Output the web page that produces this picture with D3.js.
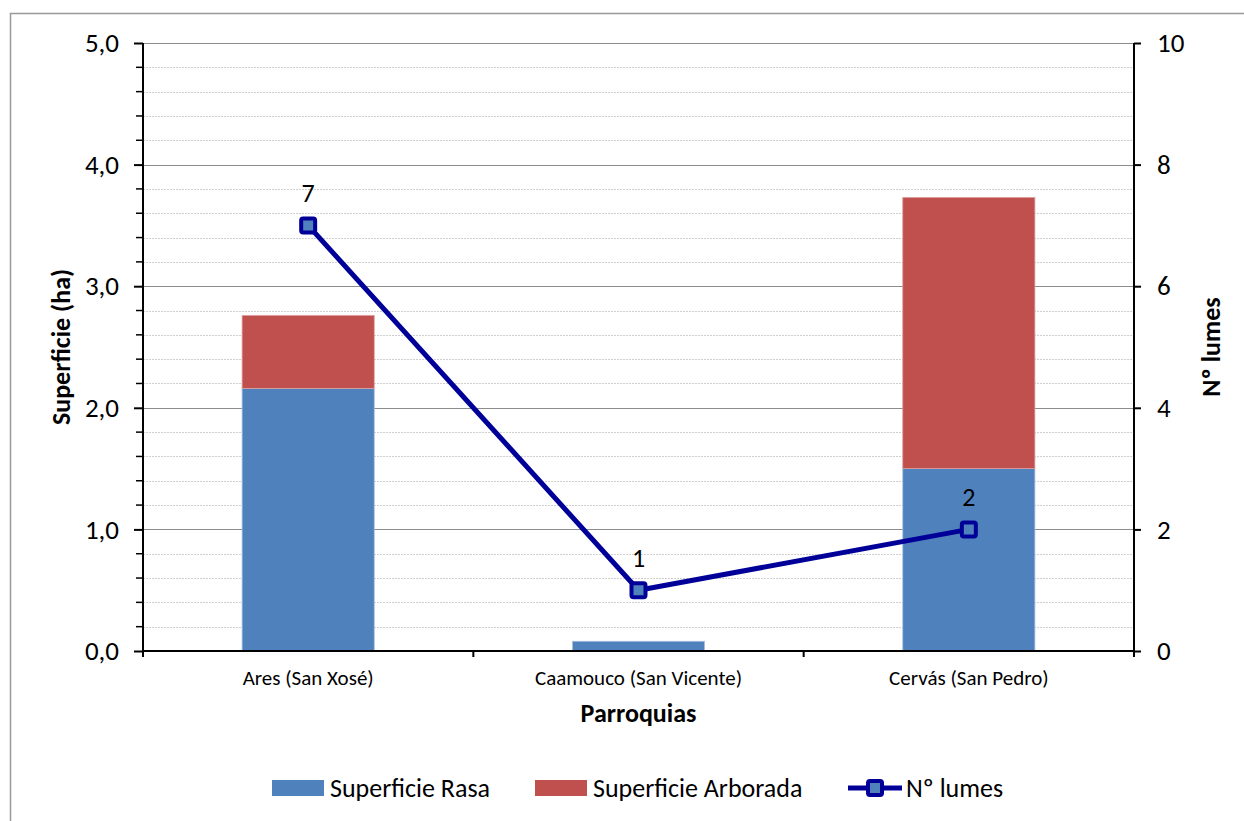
<!DOCTYPE html>
<html>
<head>
<meta charset="utf-8">
<script src="https://cdn.jsdelivr.net/npm/d3@7"></script>
<style>
  body { margin: 0; background: #fff; }
  svg text { font-family: Carlito, Calibri, "Liberation Sans", sans-serif; }
</style>
</head>
<body>
<svg id="chart" width="1244" height="821"></svg>
<script>
// Chart data
var parroquias = ["Ares (San Xosé)", "Caamouco (San Vicente)", "Cervás (San Pedro)"];
var superficieRasa = [2.16, 0.08, 1.50];
var superficieArborada = [0.60, 0, 2.23];
var numLumes = [7, 1, 2];
var leftTicks = [0, 1, 2, 3, 4, 5];
var rightTicks = [0, 2, 4, 6, 8, 10];

var svg = d3.select("#chart");
var plotLeft = 143, plotRight = 1134, plotTop = 43, plotBottom = 651;

// Outer border
svg.append("rect")
    .attr("x", 10.5).attr("y", 13.5)
    .attr("width", 1250).attr("height", 830)
    .attr("fill", "none").attr("stroke", "#999").attr("stroke-width", 1.5);

var x = d3.scaleBand().domain(parroquias).range([plotLeft, plotRight]).padding(0);
var yL = d3.scaleLinear().domain([0, 5]).range([plotBottom, plotTop]);
var yR = d3.scaleLinear().domain([0, 10]).range([plotBottom, plotTop]);

// Minor gridlines
var minor = d3.range(0, 5.01, 0.2).filter(v => Math.abs(v - Math.round(v)) > 0.01);
svg.append("g").selectAll("line").data(minor).join("line")
    .attr("x1", plotLeft).attr("x2", plotRight)
    .attr("y1", d => Math.round(yL(d)) + 0.5).attr("y2", d => Math.round(yL(d)) + 0.5)
    .attr("stroke", "#cfcfcf").attr("stroke-dasharray", "2,1");

// Major gridlines
svg.append("g").selectAll("line").data(leftTicks.slice(1)).join("line")
    .attr("x1", plotLeft).attr("x2", plotRight)
    .attr("y1", d => Math.round(yL(d)) + 0.5).attr("y2", d => Math.round(yL(d)) + 0.5)
    .attr("stroke", "#8c8c8c").attr("stroke-width", 1.2);

// Stacked bars
var barW = x.bandwidth() * 0.4;
var bars = svg.append("g");
parroquias.forEach((p, i) => {
    var bx = x(p) + (x.bandwidth() - barW) / 2;
    bars.append("rect")
        .attr("x", bx).attr("width", barW)
        .attr("y", yL(superficieRasa[i])).attr("height", yL(0) - yL(superficieRasa[i]))
        .attr("fill", "#4F81BD").attr("stroke", "#a7c0de").attr("stroke-width", 0.8);
    if (superficieArborada[i] > 0) {
        var tot = superficieRasa[i] + superficieArborada[i];
        bars.append("rect")
            .attr("x", bx).attr("width", barW)
            .attr("y", yL(tot)).attr("height", yL(superficieRasa[i]) - yL(tot))
            .attr("fill", "#C0504D").attr("stroke", "#dca09e").attr("stroke-width", 0.8);
    }
});

// Left axis
var axL = svg.append("g").attr("transform", "translate(" + plotLeft + ",0)")
    .call(d3.axisLeft(yL).tickValues(leftTicks).tickFormat(d => d3.format(".1f")(d).replace(".", ",")).tickSize(9).tickPadding(15));
axL.selectAll("text").attr("font-size", 27).attr("fill", "#000");
axL.selectAll("line, path").attr("stroke", "#000").attr("stroke-width", 2);
axL.select("path").attr("d", "M0," + plotTop + "V" + plotBottom);
svg.append("g").selectAll("line").data(minor).join("line")
    .attr("x1", plotLeft - 7).attr("x2", plotLeft)
    .attr("y1", d => yL(d)).attr("y2", d => yL(d))
    .attr("stroke", "#000").attr("stroke-width", 1.5);

// Right axis
var axR = svg.append("g").attr("transform", "translate(" + plotRight + ",0)")
    .call(d3.axisRight(yR).tickValues(rightTicks).tickSize(7).tickPadding(16));
axR.selectAll("text").attr("font-size", 27).attr("fill", "#000");
axR.selectAll("line, path").attr("stroke", "#000").attr("stroke-width", 2);
axR.select("path").attr("d", "M0," + plotTop + "V" + plotBottom);

// Bottom axis
svg.append("line").attr("x1", plotLeft - 1).attr("x2", plotRight + 1)
    .attr("y1", plotBottom).attr("y2", plotBottom).attr("stroke", "#000").attr("stroke-width", 2);
var bounds = parroquias.map(p => x(p)).concat([plotRight]);
svg.append("g").selectAll("line").data(bounds).join("line")
    .attr("x1", d => d).attr("x2", d => d)
    .attr("y1", plotBottom).attr("y2", plotBottom + 6)
    .attr("stroke", "#000").attr("stroke-width", 2);
svg.append("g").selectAll("text").data(parroquias).join("text")
    .attr("x", d => x(d) + x.bandwidth() / 2).attr("y", 685)
    .attr("text-anchor", "middle").attr("font-size", 21).text(d => d);

// Axis titles
svg.append("text").attr("x", (plotLeft + plotRight) / 2).attr("y", 722)
    .attr("text-anchor", "middle").attr("font-size", 26).attr("font-weight", "bold").text("Parroquias");
svg.append("text").attr("transform", "translate(70," + ((plotTop + plotBottom) / 2) + ") rotate(-90)")
    .attr("text-anchor", "middle").attr("font-size", 26).attr("font-weight", "bold").text("Superficie (ha)");
svg.append("text").attr("transform", "translate(1220," + ((plotTop + plotBottom) / 2) + ") rotate(-90)")
    .attr("text-anchor", "middle").attr("font-size", 26).attr("font-weight", "bold").text("Nº lumes");

// Line series
var cx = p => x(p) + x.bandwidth() / 2;
var lineGen = d3.line().x((d, i) => cx(parroquias[i])).y(d => yR(d));
svg.append("path").datum(numLumes).attr("d", lineGen)
    .attr("fill", "none").attr("stroke", "#000099").attr("stroke-width", 5);
svg.append("g").selectAll("rect").data(numLumes).join("rect")
    .attr("x", (d, i) => cx(parroquias[i]) - 7).attr("y", d => yR(d) - 7)
    .attr("width", 14).attr("height", 14).attr("rx", 2)
    .attr("fill", "#4F81BD").attr("stroke", "#000099").attr("stroke-width", 4);
svg.append("g").selectAll("text").data(numLumes).join("text")
    .attr("x", (d, i) => cx(parroquias[i])).attr("y", d => yR(d) - 23)
    .attr("text-anchor", "middle").attr("font-size", 26).text(d => d);

// Legend
var lg = svg.append("g");
lg.append("rect").attr("x", 272).attr("y", 780).attr("width", 52).attr("height", 16).attr("fill", "#4F81BD");
lg.append("text").attr("x", 330).attr("y", 797).attr("font-size", 26).text("Superficie Rasa");
lg.append("rect").attr("x", 535).attr("y", 780).attr("width", 52).attr("height", 16).attr("fill", "#C0504D");
lg.append("text").attr("x", 593).attr("y", 797).attr("font-size", 26).text("Superficie Arborada");
lg.append("line").attr("x1", 848).attr("x2", 902).attr("y1", 788).attr("y2", 788)
    .attr("stroke", "#000099").attr("stroke-width", 5);
lg.append("rect").attr("x", 868).attr("y", 781).attr("width", 14).attr("height", 14).attr("rx", 2)
    .attr("fill", "#4F81BD").attr("stroke", "#000099").attr("stroke-width", 4);
lg.append("text").attr("x", 906).attr("y", 797).attr("font-size", 26).text("Nº lumes");
</script>
</body>
</html>
